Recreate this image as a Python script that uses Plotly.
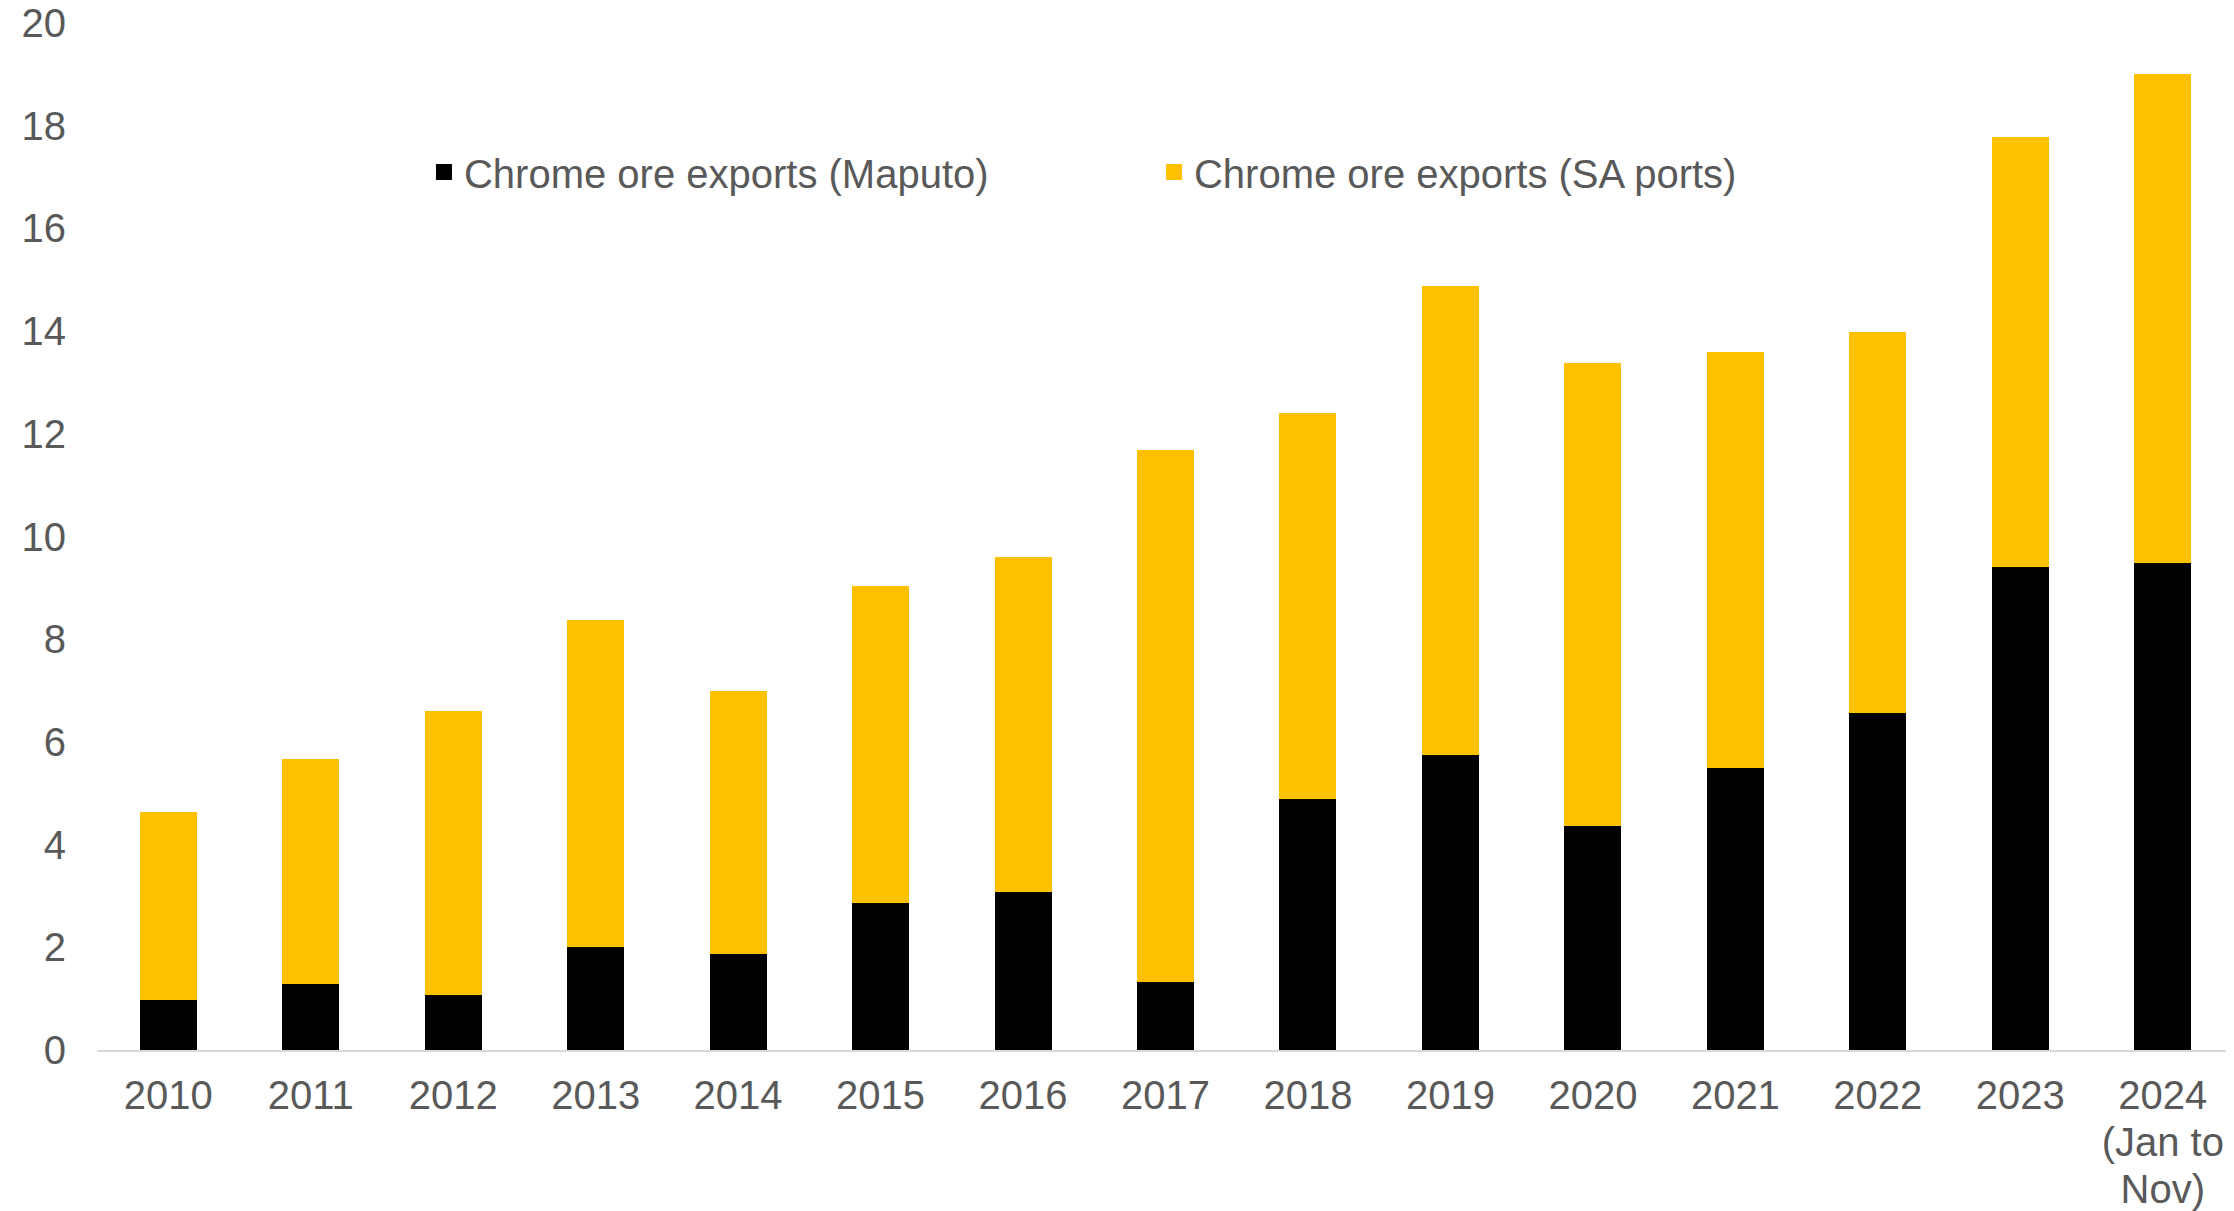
import plotly.graph_objects as go

annees = ["2010", "2011", "2012", "2013", "2014", "2015", "2016", "2017",
          "2018", "2019", "2020", "2021", "2022", "2023", "2024<br>(Jan to<br>Nov)"]
maputo = [0.97, 1.28, 1.08, 2.00, 1.86, 2.86, 3.08, 1.33,
          4.88, 5.74, 4.36, 5.49, 6.57, 9.40, 9.49]
total = [4.63, 5.66, 6.60, 8.38, 6.99, 9.04, 9.60, 11.68,
         12.40, 14.87, 13.37, 13.59, 13.98, 17.78, 19.00]
sa_ports = [round(t - m, 2) for t, m in zip(total, maputo)]

noms = ["Chrome ore exports (Maputo)", "Chrome ore exports (SA ports)"]
couleurs = ["#000000", "#FFC000"]

police = "Liberation Sans, Arial, sans-serif"
gris = "#595959"

fig = go.Figure()
for valeurs, nom, couleur in zip([maputo, sa_ports], noms, couleurs):
    fig.add_trace(go.Bar(x=annees, y=valeurs, name=nom, showlegend=False,
                         marker=dict(color=couleur, line=dict(width=0))))
# entrées de légende avec des carrés plus grands
for nom, couleur in zip(noms, couleurs):
    fig.add_trace(go.Scatter(x=[None], y=[None], mode="markers", name=nom,
                             marker=dict(symbol="square", size=20, color=couleur)))

# interligne plus serré : police de 36 pour l'espacement, texte affiché en 40
etiquettes = ['<span style="font-size:40px">' + a.replace("<br>", "</span><br><span style=\"font-size:40px\">") + "</span>"
              for a in annees]

fig.update_layout(
    width=2234, height=1211,
    barmode="stack", bargap=0.6,
    plot_bgcolor="white", paper_bgcolor="white",
    margin=dict(l=89, r=8, t=15, b=169, autoexpand=False),
    font=dict(family=police, size=40, color=gris),
    showlegend=True,
    legend=dict(orientation="h", x=0.153, xanchor="left", y=0.855, yanchor="middle",
                entrywidth=685, entrywidthmode="pixels", traceorder="normal",
                font=dict(family=police, size=40, color=gris), bgcolor="rgba(0,0,0,0)"),
    xaxis=dict(showgrid=False, showline=True, linecolor="#d9d9d9", linewidth=2,
               ticks="", ticklabelstandoff=14, tickfont=dict(size=36, color=gris), tickangle=0,
               tickmode="array", tickvals=annees, ticktext=etiquettes),
    yaxis=dict(range=[0, 20], dtick=2, showgrid=False, zeroline=False, showline=False,
               ticks="", ticklabelstandoff=30, ticklabeloverflow="allow",
               tickfont=dict(size=40, color=gris)),
)

fig.write_html("out.html")
